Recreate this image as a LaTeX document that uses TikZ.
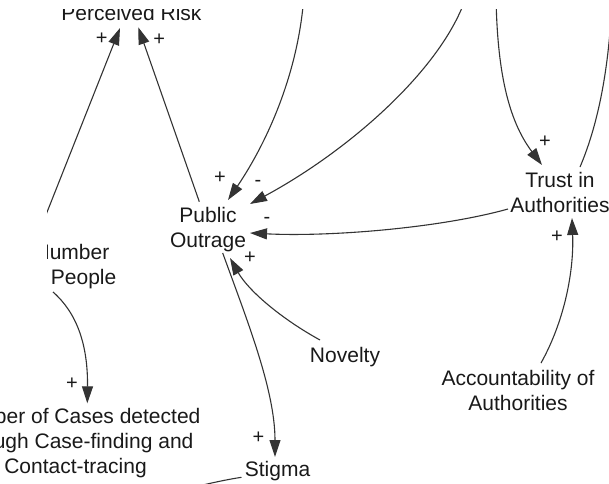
\documentclass[tikz,border=0pt]{standalone}
\usepackage{fontspec}
\setmainfont{Liberation Sans}
\usetikzlibrary{arrows.meta,calc}

\begin{document}
\begin{tikzpicture}[x=1pt,y=-1pt,
  var/.style={inner sep=0pt, align=center, anchor=base,
    font=\fontsize{21}{25}\selectfont, text=black!90},
  sign/.style={inner sep=0pt, font=\fontsize{20}{20}\selectfont, text=black!90},
  link/.style={line width=1.1pt, draw=black!80,
    -{Triangle[length=17pt,width=11pt]}},
  plain/.style={line width=1.1pt, draw=black!80}]

\useasboundingbox (0,0) rectangle (609,483);

% variables (each placed at the baseline of its last line)
\node[var] (pr) at (131.5,20.5) {Perceived Risk};
\node[var] (po) at (208,247.5) {Public\\Outrage};
\node[var] (ta) at (560,212) {Trust in\\Authorities};
\node[var] (np) at (72,284) {Number\\of People};
\node[var] (nc) at (75.5,473.3) {Number of Cases detected\\through Case-finding and\\Contact-tracing};
\node[var] (st) at (277.5,476) {Stigma};
\node[var] (nv) at (345,362) {Novelty};
\node[var] (ac) at (518,410) {Accountability of\\Authorities};

% loose ends of links that run on beyond the frame
\coordinate (c0) at (304,-5);
\coordinate (d0) at (465,0);
\coordinate (i0) at (612,-5);
\coordinate (j0) at (496,-5);
\coordinate (l0) at (190,488);

% causal links
\draw[link] ($(np.base)+(-36,-44)$) -- ($(pr.base)+(-11.5,7.5)$);
\draw[link] ($(po.base)+(-8.7,-45.8)$) -- ($(pr.base)+(6.8,6.8)$);
\draw[link] (c0) .. controls (298,80) and (262,150) .. ($(po.base)+(20,-47.5)$);
\draw[link] (d0) .. controls (440,70) and (350,150) .. ($(po.base)+(42,-43.5)$);
\draw[link] ($(ta.base)+(-52,-3)$) .. controls (440,228) and (330,237) .. ($(po.base)+(42,-14.5)$);
\draw[link] ($(po.base)+(14.7,5.5)$) .. controls (247,320) and (275,390) .. ($(st.base)+(-2.5,-19)$);
\draw[link] ($(nv.base)+(-25,-22)$) .. controls (280,318) and (248,290) .. ($(po.base)+(22,10.5)$);
\draw[link] ($(np.base)+(-19,8)$) .. controls (77,313) and (88,345) .. ($(nc.base)+(11.8,-70)$);
\draw[plain] ($(ta.base)+(20,-45)$) .. controls (600,120) and (610,60) .. (i0);
\draw[link] (j0) .. controls (497,70) and (508,120) .. ($(ta.base)+(-18,-47)$);
\draw[link] ($(ac.base)+(23,-47)$) .. controls (565,320) and (574,270) .. ($(ta.base)+(12,6)$);
\draw[plain] ($(st.base)+(-36,1.3)$) .. controls (230,479) and (215,482) .. (l0);

% link polarities
\node[sign] (s1) at (101.7,38.3) {+};
\node[sign] (s2) at (159.3,39.3) {+};
\node[sign] (s3) at (220,178) {+};
\node[sign] (s4) at (258,183) {-};
\node[sign] (s5) at (267,220) {-};
\node[sign] (s6) at (250,258) {+};
\node[sign] (s7) at (258.5,438) {+};
\node[sign] (s8) at (72,384) {+};
\node[sign] (s9) at (545,142) {+};
\node[sign] (s10) at (557,237) {+};

% white bands over the cut edges
\fill[white] (0,0) rectangle (609,9);
\fill[white] (0,195) rectangle (47,335);
\end{tikzpicture}
\end{document}
